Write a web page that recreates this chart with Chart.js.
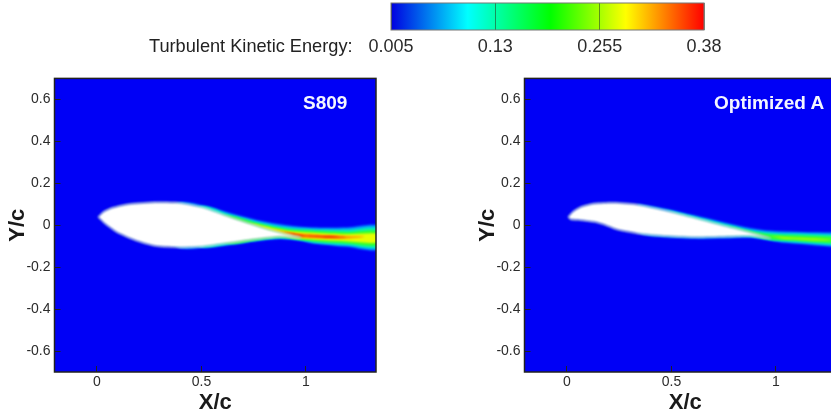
<!DOCTYPE html>
<html lang="en">
<head>
<meta charset="UTF-8">
<title>Turbulent Kinetic Energy</title>
<script src="https://cdn.jsdelivr.net/npm/chart.js"></script>
<style>
  html, body { margin: 0; padding: 0; background: #fff; width: 831px; height: 416px; overflow: hidden; font-family: 'Liberation Sans', sans-serif; }
  canvas { position: absolute; }
  .note { position: absolute; white-space: nowrap; }
  .case { color: #f4f6ff; font-weight: bold; font-size: 19px; line-height: 22px; top: 92px; }
</style>
</head>
<body>
<canvas id="barChart" style="left:340px;top:0" width="420" height="62"></canvas>
<canvas id="leftChart" style="left:0;top:60px" width="400" height="356"></canvas>
<canvas id="rightChart" style="left:470px;top:60px" width="400" height="356"></canvas>
<div class="note" style="left:149px;top:36px;font-size:18.2px;line-height:20px;color:#222">Turbulent Kinetic Energy:</div>
<div class="note case" style="left:303px">S809</div>
<div class="note case" style="left:714px">Optimized A</div>
<script>
// colour bar
const barRange = [0.005, 0.38];
const barTicks = [0.005, 0.13, 0.255, 0.38];

// axes
const xTicks = [0, 0.5, 1];
const yTicks = [0.6, 0.4, 0.2, 0, -0.2, -0.4, -0.6];

// airfoil outlines, X/c Y/c
const s809Surface = [[.006,.039],[.030,.063],[.078,.084],[.158,.101],[.285,.109],[.397,.106],[.509,.084],[.636,.039],[.780,-.008],[.907,-.043],[.979,-.060],
  [.876,-.055],[.764,-.066],[.636,-.084],[.509,-.101],[.397,-.106],[.285,-.0995],[.190,-.074],[.094,-.032],[.038,.008]];
const optSurface = [[.006,.039],[.027,.063],[.067,.087],[.131,.103],[.226,.107],[.338,.098],[.466,.071],[.609,.035],[.753,-.003],[.880,-.035],[.976,-.063],
  [.880,-.052],[.753,-.055],[.609,-.057],[.466,-.051],[.338,-.039],[.242,-.021],[.187,0],[.131,.016],[.067,.024],[.019,.027]];

// TKE contour bands, outermost first
const s809Halo = [[.317,.05],[.397,.109],[.509,.094],[.636,.058],[.780,.021],[.907,0],[1.035,-.011],[1.195,-.011],[1.354,-.005],[1.354,-.115],[1.195,-.103],[1.035,-.087],[.971,-.074],[.876,-.066],[.764,-.077],[.636,-.095],[.509,-.108],[.397,-.109],[.317,-.05]];
const s809Teal = [[.397,.05],[.509,.090],[.636,.050],[.780,.013],[.907,-.010],[1.035,-.019],[1.195,-.021],[1.354,-.016],[1.354,-.106],[1.195,-.095],[1.035,-.082],[.971,-.071],[.876,-.061],[.764,-.072],[.636,-.090],[.509,-.105],[.397,-.05]];
const s809Green = [[.509,.05],[.636,.045],[.780,.006],[.907,-.018],[1.035,-.027],[1.195,-.032],[1.354,-.029],[1.354,-.095],[1.195,-.087],[1.035,-.076],[.971,-.068],[.876,-.058],[.764,-.070],[.636,-.087],[.55,-.05]];
const s809Yellow = [[.72,.01],[.780,0],[.907,-.026],[1.035,-.036],[1.195,-.043],[1.354,-.042],[1.354,-.082],[1.195,-.076],[1.035,-.068],[.971,-.064],[.9,-.05]];
const s809Orange = [[.844,-.02],[.907,-.032],[.971,-.041],[1.035,-.044],[1.195,-.052],[1.28,-.055],[1.195,-.064],[1.035,-.061],[.971,-.056]];
const s809Red = [[.88,-.032],[.939,-.04],[.990,-.048],[1.035,-.050],[1.115,-.052],[1.195,-.058],[1.115,-.060],[1.035,-.055],[.97,-.052]];

const optHalo = [[.338,.101],[.466,.08],[.609,.047],[.753,.013],[.880,-.014],[.976,-.027],[1.120,-.032],[1.268,-.035],[1.359,-.036],[1.359,-.108],[1.268,-.103],[1.120,-.09],[1.040,-.084],[.976,-.074],[.880,-.06],[.753,-.062],[.609,-.064],[.466,-.058],[.338,-.03]];
const optTeal = [[.466,.075],[.609,.04],[.753,.006],[.880,-.024],[.976,-.036],[1.120,-.041],[1.268,-.045],[1.359,-.047],[1.359,-.098],[1.268,-.094],[1.120,-.082],[1.040,-.076],[.976,-.070],[.88,-.054],[.7,-.03]];
const optGreen = [[.753,0],[.880,-.03],[.976,-.044],[1.120,-.049],[1.268,-.054],[1.359,-.056],[1.359,-.09],[1.268,-.086],[1.120,-.076],[1.040,-.072],[.976,-.068],[.9,-.05]];
const optLime = [[.976,-.052],[1.04,-.056],[1.120,-.060],[1.2,-.064],[1.268,-.07],[1.2,-.073],[1.120,-.069],[1.04,-.066]];

const TEXT = '#2b2b2b';
const FONT = "'Liberation Sans', sans-serif";

function band(points, color, tension, edge) {
  return {
    data: points.concat([points[0]]),
    showLine: true,
    fill: 'shape',
    backgroundColor: color,
    borderColor: edge || color,
    borderWidth: edge ? 1 : 0,
    pointRadius: 0,
    tension: tension
  };
}

// blue field, slight blur for the soft contour look, frame on top
const fieldPlugin = {
  id: 'field',
  beforeDatasetsDraw(chart) {
    const a = chart.chartArea, ctx = chart.ctx;
    ctx.save();
    ctx.fillStyle = '#0000f6';
    ctx.fillRect(a.left, a.top, a.width, a.height);
    ctx.filter = 'blur(0.8px)';
  },
  afterDatasetsDraw(chart) {
    chart.ctx.restore();
  },
  afterDraw(chart) {
    const a = chart.chartArea, ctx = chart.ctx;
    ctx.save();
    ctx.strokeStyle = '#222';
    ctx.lineWidth = 1.5;
    ctx.strokeRect(a.left, a.top, a.width, a.height);
    ctx.restore();
  }
};

function fieldChart(id, layers) {
  return new Chart(document.getElementById(id), {
    type: 'scatter',
    data: { datasets: layers },
    plugins: [fieldPlugin],
    options: {
      responsive: false,
      animation: false,
      layout: { padding: { top: 16, right: 24 } },
      plugins: { legend: { display: false }, tooltip: { enabled: false } },
      scales: {
        x: {
          type: 'linear', min: -0.203, max: 1.335,
          afterBuildTicks: s => { s.ticks = xTicks.map(v => ({ value: v })); },
          afterFit: s => { s.height = 44; },
          grid: { drawOnChartArea: false, drawTicks: true, tickLength: -6, color: '#222', z: 1 },
          border: { display: false },
          ticks: { color: TEXT, padding: 8, maxRotation: 0, autoSkip: false, font: { family: FONT, size: 14 }, callback: v => String(v) },
          title: { display: true, text: 'X/c', color: '#1a1a1a', font: { family: FONT, size: 22, weight: 'bold' }, padding: { top: -3, bottom: 0 } }
        },
        y: {
          type: 'linear', min: -0.7, max: 0.7,
          afterBuildTicks: s => { s.ticks = yTicks.map(v => ({ value: v })); },
          afterFit: s => { s.width = 54.5; },
          grid: { drawOnChartArea: false, drawTicks: true, tickLength: -6, color: '#222', z: 1 },
          border: { display: false },
          ticks: { color: TEXT, padding: 10, autoSkip: false, font: { family: FONT, size: 14 }, callback: v => String(v) },
          title: { display: true, text: 'Y/c', color: '#1a1a1a', font: { family: FONT, size: 22, weight: 'bold' }, padding: { top: 5, bottom: 0 } }
        }
      }
    }
  });
}

// first dataset is drawn last, so the airfoil goes first
fieldChart('leftChart', [
  band(s809Surface, '#ffffff', 0.2, '#8fb8c8'),
  band(s809Red, '#ee1a00', 0.3),
  band(s809Orange, '#ff9000', 0.3),
  band(s809Yellow, '#e8ff00', 0.3),
  band(s809Green, '#30ff30', 0.3),
  band(s809Teal, '#00f0c0', 0.3),
  band(s809Halo, '#0090ff', 0.3)
]);

fieldChart('rightChart', [
  band(optSurface, '#ffffff', 0.2, '#8fb8c8'),
  band(optLime, '#b0ff00', 0.3),
  band(optGreen, '#30ff30', 0.3),
  band(optTeal, '#00f0c0', 0.3),
  band(optHalo, '#0090ff', 0.3)
]);

// rainbow gradient follows the bar's own extent
function rainbow(ctx) {
  const a = ctx.chart.chartArea;
  if (!a) return '#0000ff';
  const g = ctx.chart.ctx.createLinearGradient(a.left, 0, a.right, 0);
  g.addColorStop(0, '#0000e0');
  g.addColorStop(0.245, '#00ffff');
  g.addColorStop(0.51, '#00ff00');
  g.addColorStop(0.75, '#ffff00');
  g.addColorStop(1, '#ff0000');
  return g;
}

new Chart(document.getElementById('barChart'), {
  type: 'bar',
  data: {
    labels: ['TKE'],
    datasets: [{ data: [barRange], backgroundColor: rainbow, borderWidth: 0, barPercentage: 1, categoryPercentage: 1 }]
  },
  plugins: [{
    id: 'barFrame',
    afterDraw(chart) {
      const a = chart.chartArea, ctx = chart.ctx;
      ctx.save();
      ctx.strokeStyle = '#777';
      ctx.lineWidth = 1;
      ctx.strokeRect(a.left, a.top, a.width, a.height);
      ctx.restore();
    }
  }],
  options: {
    indexAxis: 'y',
    responsive: false,
    animation: false,
    layout: { padding: { left: 51, right: 56, top: 3 } },
    plugins: { legend: { display: false }, tooltip: { enabled: false } },
    scales: {
      x: {
        type: 'linear', min: barRange[0], max: barRange[1],
        afterBuildTicks: s => { s.ticks = barTicks.map(v => ({ value: v })); },
        afterFit: s => { s.height = 32; },
        grid: { drawOnChartArea: true, drawTicks: false, color: 'rgba(40,70,40,0.6)', z: 1 },
        border: { display: false },
        ticks: { color: TEXT, padding: 6, maxRotation: 0, autoSkip: false, font: { family: FONT, size: 18 }, callback: v => String(v) }
      },
      y: { display: false }
    }
  }
});
</script>
</body>
</html>
